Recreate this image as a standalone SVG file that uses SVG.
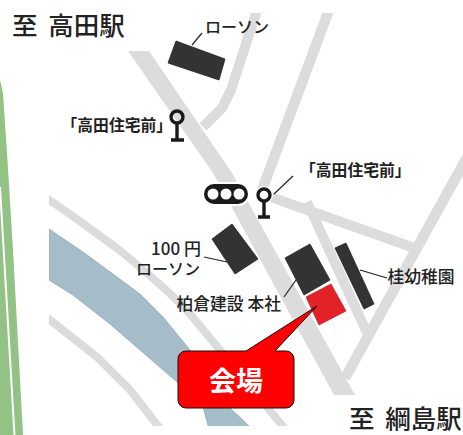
<svg xmlns="http://www.w3.org/2000/svg" width="463" height="435" viewBox="0 0 463 435">
<style>
text{font-family:"Noto Sans CJK JP","Noto Sans",sans-serif;fill:#222}
.road{fill:none;stroke:#dcdcdc}
.b{fill:#333;stroke:#222;stroke-width:.8}
.leader{fill:none;stroke:#222;stroke-width:1.2}
.lab{font-size:16px;font-weight:500}
.stop{font-size:15.8px;font-weight:700}
.big{font-size:25.5px;font-weight:500;word-spacing:5px}
.halo{fill:none;stroke:#fff;stroke-width:6;stroke-linecap:round}
.st{fill:none;stroke:#1a1a1a;stroke-width:3.4}
</style>
<defs>
<clipPath id="m"><path d="M49 13H463V395H300V426H49Z"/></clipPath>
</defs>
<rect width="463" height="435" fill="#fff"/>
<g id="green-belt">
<path d="M0 80L3 93L7 153L13 250L23 435H0Z" fill="#93c285"/>
<path d="M0 187L14.5 435" stroke="#fff" stroke-width="2" fill="none"/>
</g>
<g id="map" clip-path="url(#m)">
<path d="M49 229L83 252L140 294L163 317L190 350L231 409L249 426L249 440H212L203 407L177 382L110 324L73 295L49 280Z" fill="#a5bcc9" stroke="#8fa9b8" stroke-width=".8"/>
<path class="road" stroke-width="8" d="M45 197L74 217L118 249C150 275 172 294 190 314L220 350L286 430"/>
<path class="road" stroke-width="8" d="M45 316L97 357L130 390L162 431"/>
<path class="road" stroke-width="10" d="M257 10L231 90L222 108L203 127"/>
<path class="road" stroke-width="10.5" d="M329 10L262 190"/>
<path class="road" stroke-width="10" d="M268 196L420 250"/>
<path class="road" stroke-width="10" d="M307 202L368 335"/>
<path class="road" stroke-width="10.5" d="M470 152L345 378"/>
<path d="M128 51H149L232 173L355 395H334L213 173Z" fill="#dcdcdc"/>
</g>
<g id="connectors">
<path class="leader" d="M192 45L202 33"/>
<path class="leader" d="M274 194L293 176"/>
<path class="leader" d="M204 257L227 262"/>
<path class="leader" d="M284 297L296 280"/>
<path class="leader" d="M360 270L387 278"/>
</g>
<g id="to-takada"><text class="big" x="12" y="35">至 高田駅</text></g>
<g id="to-tsunashima"><text class="big" x="349" y="428">至 綱島駅</text></g>
<g id="lawson-north">
<path class="b" d="M176 41L225 59L219 80L168 63Z"/>
<text class="lab" x="205" y="33">ローソン</text>
</g>
<g id="stop-west">
<circle class="st" cx="177" cy="117" r="6"/>
<path class="st" d="M177 123V140M171 140H184"/>
<text class="stop" x="61.5" y="131">「高田住宅前」</text>
</g>
<g id="signal">
<rect x="202" y="182" width="48" height="24" rx="12" fill="#fff"/>
<rect x="204" y="184" width="44" height="20" rx="10" fill="#1a1a1a"/>
<circle cx="213" cy="194" r="5.5" fill="#fff"/>
<circle cx="226" cy="194" r="5.5" fill="#fff"/>
<circle cx="239" cy="194" r="5.5" fill="#fff"/>
</g>
<g id="stop-east">
<circle class="halo" cx="264" cy="195" r="6"/>
<path class="halo" d="M264 201V217"/>
<circle class="st" cx="264" cy="195" r="6"/>
<path class="st" d="M264 201V217M258 217H270"/>
<text class="stop" x="300" y="176">「高田住宅前」</text>
</g>
<g id="lawson-100">
<path class="b" d="M212 239L232 224L258 259L235 274Z"/>
<text class="lab" text-anchor="end"><tspan x="201" y="255" style="font-size:17px">100 円</tspan><tspan x="200" y="275">ローソン</tspan></text>
</g>
<g id="hq">
<path class="b" d="M285 258L310 244L330 280L304 295Z"/>
<text class="lab" x="176.5" y="310" style="font-size:16.8px">柏倉建設 本社</text>
</g>
<g id="kindergarten">
<path class="b" d="M335 248L346 243L374 304L364 309Z"/>
<text class="lab" x="387.5" y="283" style="font-size:16.8px">桂幼稚園</text>
</g>
<g id="venue">
<path d="M306 297L331 284L346 311L319 325Z" fill="#e32227" stroke="#c9252a" stroke-width=".8"/>
</g>
<g id="callout">
<path d="M186 351H246L317 306L275 351H286A8 8 0 0 1 294 359V400A8 8 0 0 1 286 408H186A8 8 0 0 1 178 400V359A8 8 0 0 1 186 351Z" fill="#f00" stroke="#111" stroke-width="1"/>
<text x="236" y="391" text-anchor="middle" font-size="27" font-weight="700" style="fill:#fff">会場</text>
</g>
</svg>
